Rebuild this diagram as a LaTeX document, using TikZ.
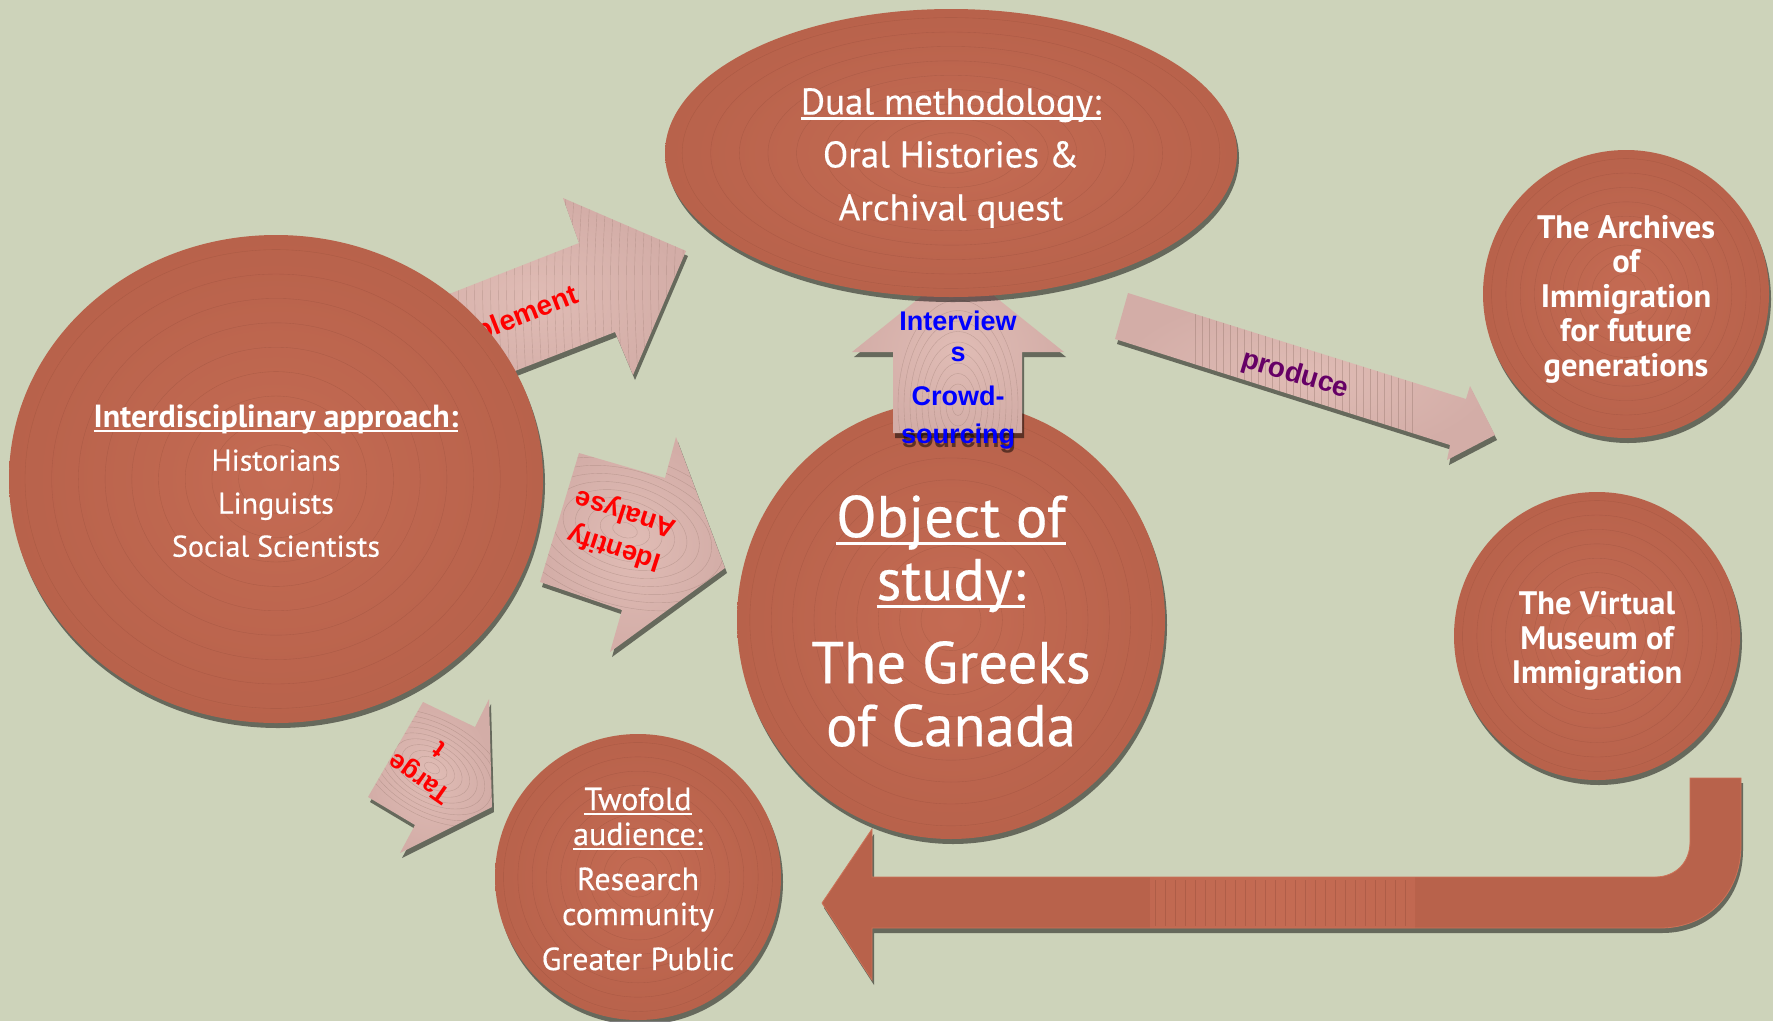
\documentclass[tikz,border=0pt]{standalone}
\usepackage{fontspec}
\setmainfont{PT Sans}[UprightFeatures={FakeBold=0.35}]
\newfontfamily\labelfont{Liberation Sans}
\usetikzlibrary{shapes.geometric,shadows,calc}

\definecolor{bgC}{RGB}{205,211,186}
\definecolor{circBase}{RGB}{184,98,75}
\definecolor{circLight}{RGB}{196,107,83}
\definecolor{ringC}{RGB}{140,72,55}
\definecolor{pinkC}{RGB}{211,173,167}
\definecolor{pinkLight}{RGB}{224,188,181}
\definecolor{grainC}{RGB}{140,110,100}
\definecolor{produceC}{RGB}{102,0,102}

% underline set close under the baseline
\newcommand\ulin[1]{\leavevmode\setbox0=\hbox{#1}\rlap{\rule[-0.14em]{\wd0}{0.065em}}\box0}

\tikzset{
  softshadow/.style={general shadow={fill=black, fill opacity=0.5, shadow xshift=2pt, shadow yshift=-5pt}},
  rings/.style={path picture={
      \foreach \k in {0.14,0.24,...,0.96}{
        \draw[ringC, line width=0.35pt, opacity=0.35]
          let \p1=(path picture bounding box.south west), \p2=(path picture bounding box.north east) in
          ($(\p1)!0.5!(\p2)$) ellipse ({\k*(\x2-\x1)/2} and {\k*(\y2-\y1)/2});
      }}},
  blob/.style={ellipse, inner sep=0pt, inner color=circLight, outer color=circBase, softshadow, rings},
  blobtext/.style={inner sep=0pt, align=center, text=white},
  pinkarrow/.style={inner color=pinkLight, outer color=pinkC, softshadow},
  grain/.style={grainC, line width=0.4pt, opacity=0.35},
  lbl/.style={font=\labelfont\bfseries\fontsize{28}{34}\selectfont, inner sep=0pt},
}

\begin{document}
\begin{tikzpicture}[x=1pt,y=-1pt]
\fill[bgC] (0,0) rectangle (1773,1021);
\useasboundingbox (0,0) rectangle (1773,1021);

% return arrow along the bottom
\path[fill=circBase, draw={rgb,255:red,204;green,114;blue,88}, line width=0.8pt, softshadow,
  path picture={
    \shade[left color=circBase, right color=circBase, middle color=circLight] (1150,870) rectangle (1415,935);
    \foreach \x in {1155,1165,...,1410} \draw[ringC, line width=0.35pt, opacity=0.35] (\x,880) -- (\x,926);
  }]
  (822,903) -- (872,829) -- (872,877) -- (1655,877)
  .. controls (1676,877) and (1690,862) .. (1690,842) -- (1690,778) -- (1741,778) -- (1741,845)
  .. controls (1741,893) and (1708,928) .. (1660,928) -- (872,928) -- (872,980) -- cycle;

% central circle
\node[blob, minimum width=428pt, minimum height=438pt] (object) at (951,620) {};
\node[blobtext, font=\fontsize{59}{63}\selectfont] (objecttext) at ($(object.center)+(0,1)$)
  {\ulin{Object of}\\\ulin{study:}\\[20pt]The Greeks\\of Canada};

% implement arrow
\path[pinkarrow, path picture={
    \foreach \x in {455,463,...,690} \draw[grain] (\x,180) .. controls (\x-6,280) .. (\x,400);
  }]
  (378,322) -- (579,243) -- (563,198) -- (686,251) -- (633,375) -- (615,332) -- (443,399) -- cycle;
\node[lbl, text=red, rotate=21.5] (implement) at (512,321) {Implement};

% identify / analyse arrow
\path[pinkarrow, path picture={
    \foreach \k in {0.15,0.3,...,1.6}
      \draw[grain, rotate around={-17:(625,530)}] (625,530) ellipse ({\k*85} and {\k*50});
  }]
  (579,453) -- (665,478) -- (676,437) -- (725,568) -- (610,652) -- (622,610) -- (540,582) -- cycle;

% target arrow
\path[pinkarrow, path picture={
    \foreach \k in {0.15,0.3,...,1.6}
      \draw[grain, rotate around={-30:(432,768)}] (432,768) ellipse ({\k*55} and {\k*32});
  }]
  (423,702) -- (475,727) -- (489,699) -- (492,807) -- (400,853) -- (415,825) -- (368,797) -- cycle;

% produce arrow
\path[pinkarrow, path picture={
    \foreach \x in {1195,1202,...,1415} \draw[grain] (\x,250) -- (\x,480);
  }]
  (1128,293) -- (1466,399) -- (1470,386) -- (1495,435) -- (1447,460) -- (1450,445) -- (1115,339) -- cycle;

% interviews / crowd-sourcing arrow
\path[pinkarrow, path picture={
    \foreach \k in {0.15,0.3,...,1.6}
      \draw[grain] (958,405) ellipse ({\k*40} and {\k*70});
  }]
  (958,267) -- (1064,352) -- (1022,352) -- (1022,433) -- (893,433) -- (893,352) -- (852,352) -- cycle;

% outer circles
\node[blob, minimum width=534pt, minimum height=488pt] (interd) at (276,479) {};
\node[blobtext, font=\fontsize{30}{43}\selectfont] (interdtext) at ($(interd.center)+(0,2)$)
  {\ulin{\bfseries\fontsize{32}{43}\selectfont Interdisciplinary approach:}\\Historians\\Linguists\\Social Scientists};

\node[blob, minimum width=572pt, minimum height=288pt] (dual) at (951,153) {};
\node[blobtext, font=\fontsize{37}{53}\selectfont] (dualtext) at ($(dual.center)+(0,5)$)
  {\ulin{Dual methodology:}\\Oral Histories \&\\Archival quest};

\node[blob, minimum width=286pt, minimum height=288pt] (archives) at (1626,294) {};
\node[blobtext, font=\bfseries\fontsize{32.5}{34.5}\selectfont] (archivestext) at ($(archives.center)+(0,5)$)
  {The Archives\\of\\Immigration\\for future\\generations};

\node[blob, minimum width=286pt, minimum height=288pt] (virtual) at (1597,636) {};
\node[blobtext, font=\bfseries\fontsize{32.5}{34.5}\selectfont] (virtualtext) at ($(virtual.center)+(0,5)$)
  {The Virtual\\Museum of\\Immigration};

\node[blob, minimum width=286pt, minimum height=286pt] (twofold) at (638,877) {};
\node[blobtext, font=\fontsize{32}{35}\selectfont] (twofoldtext) at ($(twofold.center)+(0,2)$)
  {\ulin{Twofold}\\\ulin{audience:}\\[10pt]Research\\community\\[10pt]Greater Public};

% arrow labels
\node[lbl, text=red, rotate=162, align=center, font=\labelfont\bfseries\fontsize{27}{37}\selectfont]
  (identify) at (620,530) {Identify\\Analyse};
\node[lbl, text=red, rotate=145, align=center, font=\labelfont\bfseries\fontsize{26}{35}\selectfont]
  (target) at (429,765) {Targe\\t};
\node[lbl, text=produceC, rotate=-16.5] (produce) at (1295,375) {produce};

\begin{scope}[every node/.style={lbl, text=blue, anchor=base, font=\labelfont\bfseries\fontsize{27}{33}\selectfont}]
  \node (interview) at (958,330) {Interview};
  \node (interviews) at (958,361) {s};
  \node (crowd) at (958,405) {Crowd-};
  \node[text=black, opacity=0.5] (sourcingshadow) at (959,447) {sourcing};
  \node (sourcing) at (958,443) {sourcing};
\end{scope}
\end{tikzpicture}
\end{document}
